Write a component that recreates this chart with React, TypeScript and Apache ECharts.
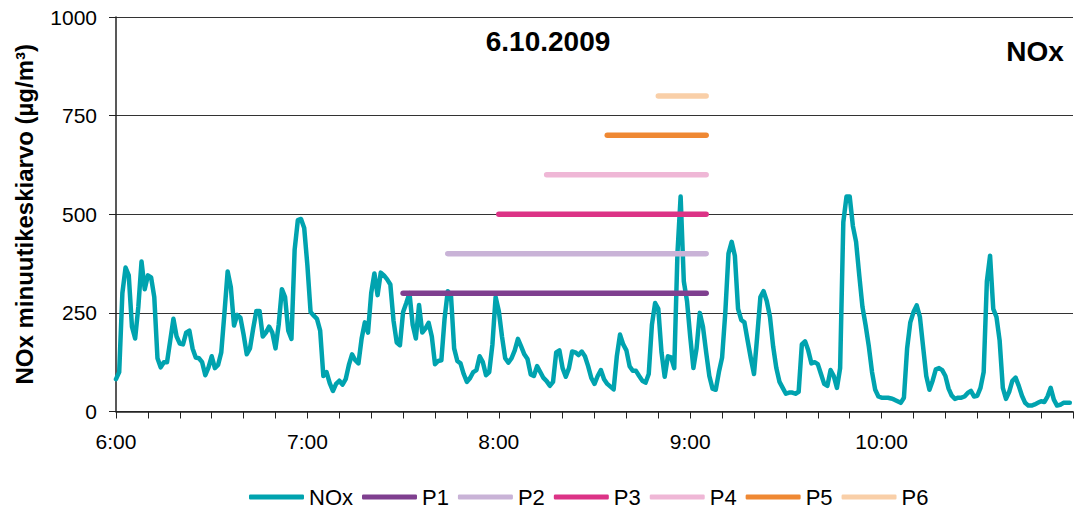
import React, { useEffect, useRef } from "react";
import * as echarts from "echarts";

// Minutes after 6:00 -> NOx minute average (µg/m³)
const noxValues: number[] = [
  82, 100, 300, 365, 345, 215, 185, 265, 380, 310,
  345, 340, 290, 135, 112, 125, 125, 180, 235, 190,
  172, 170, 200, 205, 160, 137, 135, 125, 92, 112,
  140, 110, 118, 150, 250, 355, 315, 218, 245, 238,
  195, 145, 160, 210, 255, 255, 190, 200, 215, 200,
  160, 220, 310, 290, 205, 184, 410, 485, 488, 465,
  370, 252, 243, 235, 205, 90, 100, 72, 52, 70,
  78, 68, 82, 118, 145, 130, 122, 185, 226, 200,
  300, 350, 295, 352, 345, 335, 322, 230, 175, 168,
  252, 275, 300, 220, 185, 270, 200, 210, 225, 190,
  120, 128, 130, 235, 305, 295, 160, 128, 122, 95,
  75, 85, 100, 105, 140, 125, 92, 100, 170, 290,
  255, 190, 135, 124, 135, 155, 184, 165, 145, 133,
  94, 90, 115, 100, 85, 77, 65, 75, 150, 155,
  110, 88, 110, 152, 150, 143, 152, 140, 115, 85,
  70, 90, 105, 82, 70, 63, 56, 140, 195, 170,
  155, 115, 103, 103, 90, 78, 73, 95, 220, 275,
  260, 150, 88, 140, 137, 110, 400, 545, 330, 280,
  190, 110, 160, 250, 215, 150, 90, 58, 55, 100,
  137, 250, 400, 430, 395, 260, 232, 226, 180, 135,
  95, 190, 290, 305, 280, 240, 165, 110, 75, 60,
  45, 48, 48, 45, 50, 170, 178, 155, 122, 125,
  120, 95, 70, 65, 105, 90, 60, 110, 480, 545,
  545, 470, 430, 345, 265, 218, 165, 100, 55, 38,
  35, 35, 35, 33, 30, 26, 22, 35, 160, 226,
  252, 269, 240, 165, 90, 55, 78, 107, 110, 105,
  90, 58, 40, 32, 35, 35, 38, 47, 52, 38,
  40, 60, 100, 330, 395, 260, 240, 180, 60, 32,
  50, 78, 86, 65, 40, 22, 15, 15, 18, 22,
  26, 24, 38, 60, 30, 15, 17, 22, 22, 22,
];

const periodNames = ["P1", "P2", "P3", "P4", "P5", "P6"];
const periodStarts = [90, 104, 120, 135, 154, 170]; // minutes after 6:00
const periodEnds = [185, 185, 185, 185, 185, 185];
const periodLevels = [300, 400, 500, 600, 700, 800];

const startHour = 6;
const xMax = 300;
const yTickInterval = 250;
const yMax = 1000;

const noxColor = "#00A3AF";
const periodColors = ["#7F3F8F", "#C9B3D7", "#DC3386", "#EFB7D6", "#EF8833", "#F9CFA8"];

const FONT = "'Liberation Sans', Arial, Helvetica, sans-serif";

export default function App() {
  const ref = useRef<HTMLDivElement>(null);

  useEffect(() => {
    if (!ref.current) return;
    const chart = echarts.init(ref.current, undefined, { renderer: "svg" });

    const series: any[] = [
      {
        name: "NOx",
        type: "line",
        data: noxValues.map((v, i) => [i, v]),
        symbol: "none",
        lineStyle: { color: noxColor, width: 4.5, join: "round", cap: "round" },
        itemStyle: { color: noxColor },
        z: 2,
      },
      ...periodNames.map((name, k) => ({
        name,
        type: "line",
        data: [
          [periodStarts[k], periodLevels[k]],
          [periodEnds[k], periodLevels[k]],
        ],
        symbol: "none",
        lineStyle: { color: periodColors[k], width: 5.5, cap: "round" },
        itemStyle: { color: periodColors[k] },
        z: 3,
      })),
    ];

    chart.setOption({
      animation: false,
      textStyle: { fontFamily: FONT },
      grid: { left: 116, right: -3, top: 17, bottom: 98.5, containLabel: false },
      xAxis: {
        type: "value",
        min: 0,
        max: xMax,
        interval: 60,
        axisLine: { show: true, lineStyle: { color: "#222", width: 1.5 } },
        axisTick: { show: true, length: 7, lineStyle: { color: "#222", width: 1 } },
        minorTick: { show: true, splitNumber: 6, length: 7, lineStyle: { color: "#222", width: 1 } },
        splitLine: { show: false },
        axisLabel: {
          fontSize: 21,
          color: "#000",
          fontFamily: FONT,
          margin: 19,
          formatter: (v: number) => (v >= xMax ? "" : `${startHour + Math.round(v / 60)}:00`),
        },
      },
      yAxis: {
        type: "value",
        min: 0,
        max: yMax,
        interval: yTickInterval,
        name: "NOx minuutikeskiarvo (µg/m³)",
        nameLocation: "middle",
        nameGap: 80,
        nameTextStyle: { fontSize: 24, fontWeight: "bold", color: "#000", fontFamily: FONT },
        axisLine: { show: true, lineStyle: { color: "#222", width: 1.5 } },
        axisTick: { show: true, length: 7, lineStyle: { color: "#222", width: 1 } },
        splitLine: { show: true, lineStyle: { color: "#333", width: 1 } },
        axisLabel: {
          fontSize: 21,
          color: "#000",
          fontFamily: FONT,
          margin: 19,
          formatter: (v: number) => String(v),
        },
      },
      legend: {
        data: ["NOx", ...periodNames],
        left: 244,
        top: 481,
        icon: "roundRect",
        itemWidth: 55,
        itemHeight: 5,
        itemGap: 9,
        textStyle: { fontSize: 22, lineHeight: 22, color: "#000", fontFamily: FONT },
      },
      graphic: [
        {
          type: "text",
          x: 548,
          y: 27,
          style: {
            text: "6.10.2009",
            fill: "#000",
            fontSize: 28,
            fontWeight: "bold",
            fontFamily: FONT,
            align: "center",
            verticalAlign: "top",
          },
        },
        {
          type: "text",
          x: 1035,
          y: 37,
          style: {
            text: "NOx",
            fill: "#000",
            fontSize: 28,
            fontWeight: "bold",
            fontFamily: FONT,
            align: "center",
            verticalAlign: "top",
          },
        },
      ],
      series,
    });

    return () => chart.dispose();
  }, []);

  return (
    <div
      ref={ref}
      style={{ position: "absolute", left: 0, top: 0, width: 1076, height: 510, background: "#fff" }}
    />
  );
}
